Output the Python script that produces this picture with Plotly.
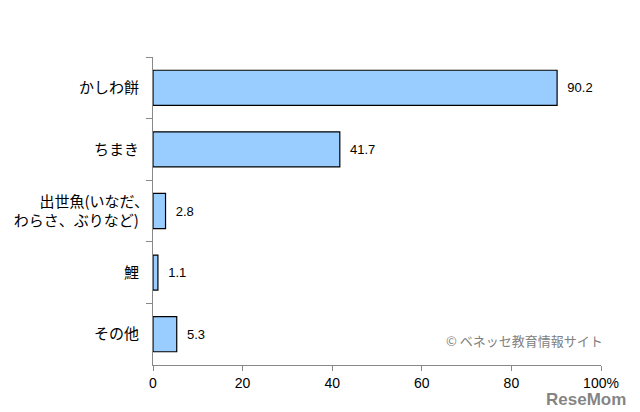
import plotly.graph_objects as go

categories = ["かしわ餅", "ちまき", "出世魚(いなだ、<br>わらさ、ぶりなど)", "鯉", "その他"]
values = [90.2, 41.7, 2.8, 1.1, 5.3]
tick_vals = [0, 20, 40, 60, 80, 100]
tick_text = ["0", "20", "40", "60", "80", "100%"]

# page body has an 8px default margin; size the figure to compensate
W, H = 632, 404
L, R, T, B = 145, 39, 49, 47

fig = go.Figure(go.Bar(
    y=categories, x=values, orientation="h",
    marker=dict(color="#99CCFF", line=dict(color="black", width=1.2)),
    width=0.57,
    text=[f"  {v:.1f}" for v in values], textposition="outside",
    textfont=dict(family="Arial, Liberation Sans", size=13, color="black"),
    cliponaxis=False,
))

fig.update_layout(
    width=W, height=H,
    margin=dict(l=L, r=R, t=T, b=B),
    paper_bgcolor="white", plot_bgcolor="white",
    showlegend=False,
    font=dict(family="Noto Sans CJK JP", size=15, color="black"),
    xaxis=dict(range=[0, 100], tickvals=tick_vals, ticktext=tick_text,
               automargin=False,
               showgrid=False, zeroline=False, showline=True,
               linecolor="#888888", linewidth=1, ticks="outside",
               ticklen=5, tickcolor="#888888",
               tickfont=dict(family="Arial, Liberation Sans", size=14, color="black")),
    yaxis=dict(autorange="reversed", showgrid=False, zeroline=False,
               automargin=False,
               showline=True, linecolor="#888888", linewidth=1,
               ticks="outside", ticklen=6, tickcolor="#888888",
               tickson="boundaries", ticksuffix="   ",
               tickfont=dict(family="Noto Sans CJK JP", size=15, color="black")),
    bargap=0.43,
)

pw, ph = W - L - R, H - T - B

fig.add_annotation(xref="paper", yref="paper",
                   x=(605 - 153) / pw, y=(365 - 340) / ph,
                   text="© ベネッセ教育情報サイト",
                   showarrow=False, xanchor="right", yanchor="middle",
                   font=dict(family="Noto Sans CJK JP", size=13, color="#808080"))

fig.add_annotation(xref="paper", yref="paper", x=(628 - 153) / pw, y=(365 - 399) / ph,
                   text="<b>ReseMom</b>", showarrow=False, xanchor="right", yanchor="middle",
                   font=dict(family="Liberation Sans", size=17, color="rgba(110,110,110,0.85)"))

fig.write_html("out.html")
